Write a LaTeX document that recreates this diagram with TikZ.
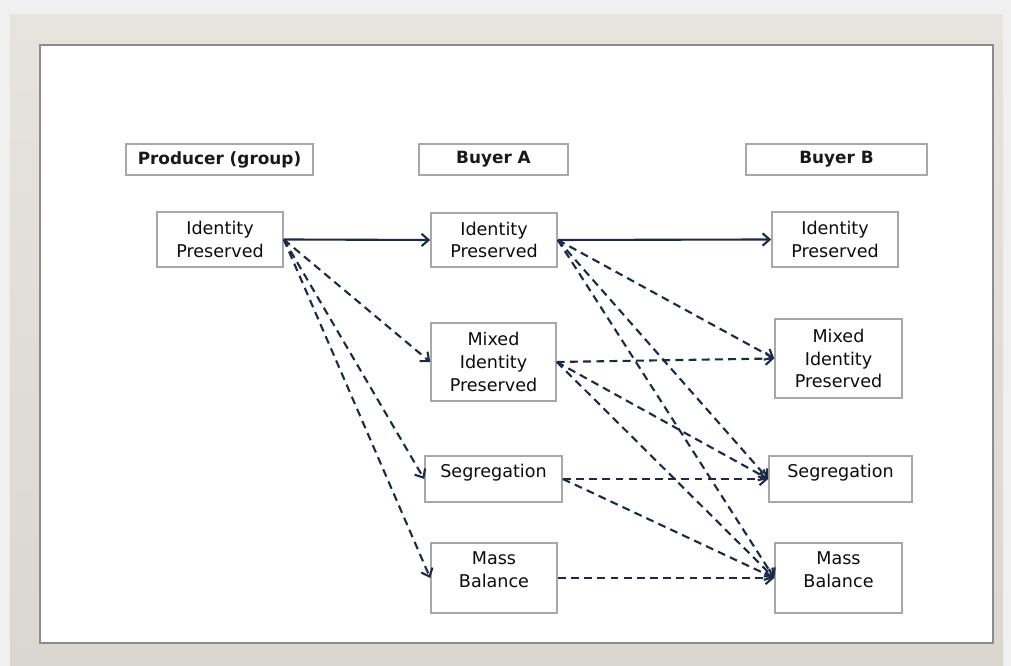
\documentclass[tikz,border=0pt]{standalone}
\usepackage{fontspec}
\setmainfont{DejaVu Sans}
\usetikzlibrary{arrows.meta,shapes}
\definecolor{frmgray}{HTML}{DAD7D0}
\definecolor{frmtop}{HTML}{E6E4DE}
\definecolor{linkblue}{HTML}{1C2A45}
\definecolor{boxgray}{HTML}{A8A8A8}
\tikzstyle{hbox}=[rectangle,draw=boxgray,line width=0.9pt,font=\bfseries\fontsize{9.6}{11}\selectfont,text=black!90,minimum height=6.2mm,inner sep=0pt]
\tikzstyle{sbox}=[rectangle,draw=boxgray,line width=0.9pt,font=\fontsize{10}{13}\selectfont,text=black!95,align=center,inner sep=0pt]
\tikzstyle{flow}=[-{Straight Barb[length=4pt,width=7pt]},draw=linkblue,line width=1.2pt]
\tikzstyle{dflow}=[flow,dash pattern=on 4.5pt off 3pt]

\begin{document}
\begin{tikzpicture}
\useasboundingbox (0,0) rectangle (20.22,13.32);
% frame
\fill[black!6] (0,0) rectangle (20.22,13.32);
\shade[top color=frmtop,bottom color=frmgray] (0.2,0) rectangle (20.06,13.02);
\fill[white] (0.8,0.46) rectangle (19.86,12.42);
\draw[black!45,line width=0.8pt] (0.8,0.46) rectangle (19.86,12.42);

% column heads
\node[hbox,minimum width=3.74cm] (prod) at (4.39,10.13) {Producer (group)};
\node[hbox,minimum width=2.98cm] (buya) at (9.87,10.13) {Buyer A};
\node[hbox,minimum width=3.62cm] (buyb) at (16.73,10.13) {Buyer B};

% producer
\node[sbox,minimum width=2.52cm,minimum height=1.1cm] (pip) at (4.40,8.53) {Identity\\Preserved};

% buyer A
\node[sbox,minimum width=2.52cm,minimum height=1.08cm] (aip) at (9.88,8.52) {Identity\\Preserved};
\node[sbox,minimum width=2.5cm,minimum height=1.56cm] (amip) at (9.87,6.08) {Mixed\\Identity\\Preserved};
\node[sbox,minimum width=2.74cm,minimum height=0.92cm,text depth=0.33cm] (aseg) at (9.87,3.74) {Segregation};
\node[sbox,minimum width=2.52cm,minimum height=1.4cm,text depth=0.32cm] (amb) at (9.88,1.76) {Mass\\Balance};

% buyer B
\node[sbox,minimum width=2.52cm,minimum height=1.1cm] (bip) at (16.70,8.53) {Identity\\Preserved};
\node[sbox,minimum width=2.54cm,minimum height=1.58cm] (bmip) at (16.77,6.15) {Mixed\\Identity\\Preserved};
\node[sbox,minimum width=2.86cm,minimum height=0.92cm,text depth=0.33cm] (bseg) at (16.81,3.74) {Segregation};
\node[sbox,minimum width=2.54cm,minimum height=1.4cm,text depth=0.32cm] (bmb) at (16.77,1.76) {Mass\\Balance};

% links
\draw[flow](pip.east)--(aip.west);\draw[flow](aip.east)--(bip.west);
\draw[dflow](pip.east)--(amip.west);\draw[dflow](pip.east)--(aseg.west);\draw[dflow](pip.east)--(amb.west);
\draw[dflow](aip.east)--(bmip.west);\draw[dflow](aip.east)--(bseg.west);\draw[dflow](aip.east)--(bmb.west);
\draw[dflow](amip.east)--(bmip.west);\draw[dflow](amip.east)--(bseg.west);\draw[dflow](amip.east)--(bmb.west);
\draw[dflow](aseg.east)--(bseg.west);\draw[dflow](aseg.east)--(bmb.west);
\draw[dflow](amb.east)--(bmb.west);
\end{tikzpicture}
\end{document}
